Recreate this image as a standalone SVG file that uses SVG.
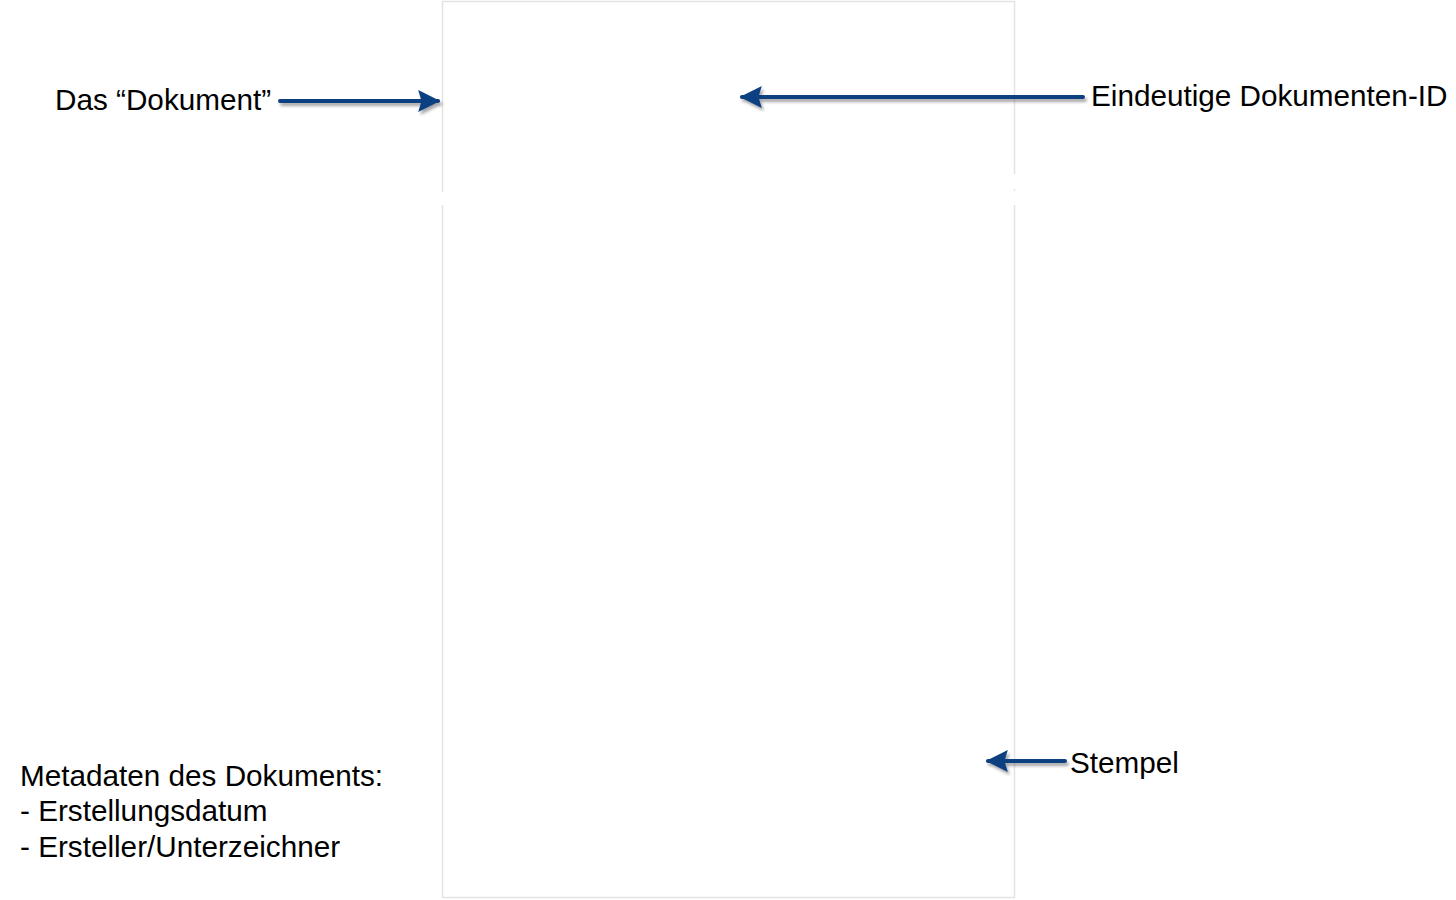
<svg xmlns="http://www.w3.org/2000/svg" width="1456" height="900" viewBox="0 0 1456 900">
<style>
.lbl{font-family:"Liberation Sans",Arial,sans-serif;font-size:29.7px;fill:#000}
.doc{fill:none;stroke:#e4e4e4;stroke-width:1.5}
.arr{stroke:#0b3f80;stroke-width:4;stroke-linecap:round;fill:none}
</style>
<defs>
<filter id="sh" filterUnits="userSpaceOnUse" x="0" y="0" width="1456" height="900">
<feDropShadow dx="2" dy="3" stdDeviation="1.5" flood-color="#000" flood-opacity="0.35"/>
</filter>
<marker id="ah" viewBox="0 0 10 10" refX="9" refY="5" markerWidth="7" markerHeight="5.5" orient="auto" markerUnits="strokeWidth">
<path d="M0,0 L10,5 L0,10 L1.5,5 Z" fill="#0b3f80"/>
</marker>
</defs>
<rect width="1456" height="900" fill="#fff"/>
<g id="document">
<path class="doc" d="M442.5,192 V1.5 H1014.5 V174 M1014.5,189 V191 M442.5,205 V897.5 H1014.5 V205"/>
</g>
<g id="label-dokument"><text class="lbl" x="55" y="110">Das “Dokument”</text></g>
<g id="label-id"><text class="lbl" x="1091" y="106">Eindeutige Dokumenten-ID</text></g>
<g id="label-stempel"><text class="lbl" x="1070" y="773">Stempel</text></g>
<g id="label-meta">
<text class="lbl" x="20" y="786">Metadaten des Dokuments:</text>
<text class="lbl" x="20" y="821">- Erstellungsdatum</text>
<text class="lbl" x="20" y="857">- Ersteller/Unterzeichner</text>
</g>
<g id="connectors" filter="url(#sh)">
<path class="arr" d="M280,101 H438" marker-end="url(#ah)"/>
<path class="arr" d="M1083,97 H742" marker-end="url(#ah)"/>
<path class="arr" d="M1065,761 H988" marker-end="url(#ah)"/>
</g>
</svg>
